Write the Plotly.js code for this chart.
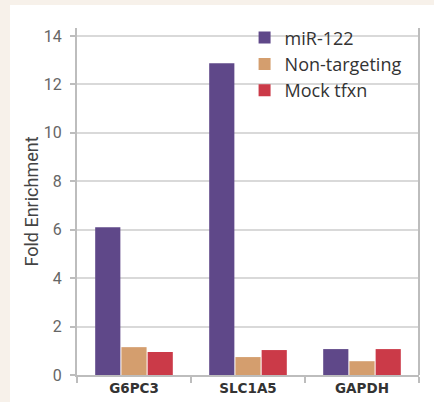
<!DOCTYPE html>
<html>
<head>
<meta charset="utf-8">
<script src="https://cdn.plot.ly/plotly-3.0.1.min.js"></script>
<style>
  html, body { margin: 0; padding: 0; background: #f7f1ea; width: 434px; height: 402px; overflow: hidden; }
  #chart { position: absolute; left: 10px; top: 5px; width: 424px; height: 397px; }
</style>
</head>
<body>
<div id="chart"></div>
<script>
const categories = ["G6PC3", "SLC1A5", "GAPDH"];
const seriesNames = ["miR-122", "Non-targeting", "Mock tfxn"];
const mir122 = [6.1, 12.87, 1.07];
const nonTargeting = [1.15, 0.74, 0.57];
const mockTfxn = [0.95, 1.03, 1.07];
const yTicks = [0, 2, 4, 6, 8, 10, 12, 14];

const colors = ["#5f4889", "#d49e6e", "#cb3a48"];
const values = [mir122, nonTargeting, mockTfxn];

const data = values.map((v, i) => ({
  type: "bar",
  name: seriesNames[i],
  x: categories,
  y: v,
  marker: { color: colors[i], line: { width: 0 } },
  hoverinfo: "skip"
}));

const layout = {
  width: 424,
  height: 397,
  paper_bgcolor: "#ffffff",
  plot_bgcolor: "#ffffff",
  margin: { l: 67, r: 15, t: 23, b: 27 },
  font: { family: "Roboto, 'DejaVu Sans', sans-serif", color: "#555" },
  barmode: "group",
  bargap: 0.31,
  bargroupgap: 0.04,
  showlegend: true,
  legend: {
    x: 0.49, y: 1.025, xanchor: "left", yanchor: "top",
    bgcolor: "rgba(0,0,0,0)",
    font: { size: 18, color: "#333", family: "'Open Sans', sans-serif" },
    tracegroupgap: 0
  },
  xaxis: {
    type: "category",
    automargin: false,
    showline: true, linecolor: "#bdbdbd", linewidth: 2,
    ticks: "outside", ticklen: 6, tickcolor: "#bdbdbd", tickwidth: 2,
    tickson: "boundaries",
    showgrid: false,
    tickfont: { size: 13.5, color: "#333", family: "'DejaVu Sans', sans-serif", weight: "bold" }
  },
  yaxis: {
    automargin: false,
    range: [0, 14.33],
    tickvals: yTicks,
    ticktext: yTicks.map(String),
    showline: true, linecolor: "#bdbdbd", linewidth: 2,
    ticks: "outside", ticklen: 5, tickcolor: "#bdbdbd", tickwidth: 2,
    ticklabelstandoff: 5,
    showgrid: true, gridcolor: "#d9d9d9", gridwidth: 2,
    zeroline: false,
    tickfont: { size: 16, color: "#666" },
    title: { text: "Fold Enrichment", font: { size: 18, color: "#444" }, standoff: 1 }
  },
  shapes: [
    { type: "line", xref: "paper", yref: "paper", x0: 1, x1: 1, y0: 0, y1: 1,
      line: { color: "#bdbdbd", width: 2 } }
  ]
};

Plotly.newPlot("chart", data, layout, { displayModeBar: false, staticPlot: true });
</script>
</body>
</html>
